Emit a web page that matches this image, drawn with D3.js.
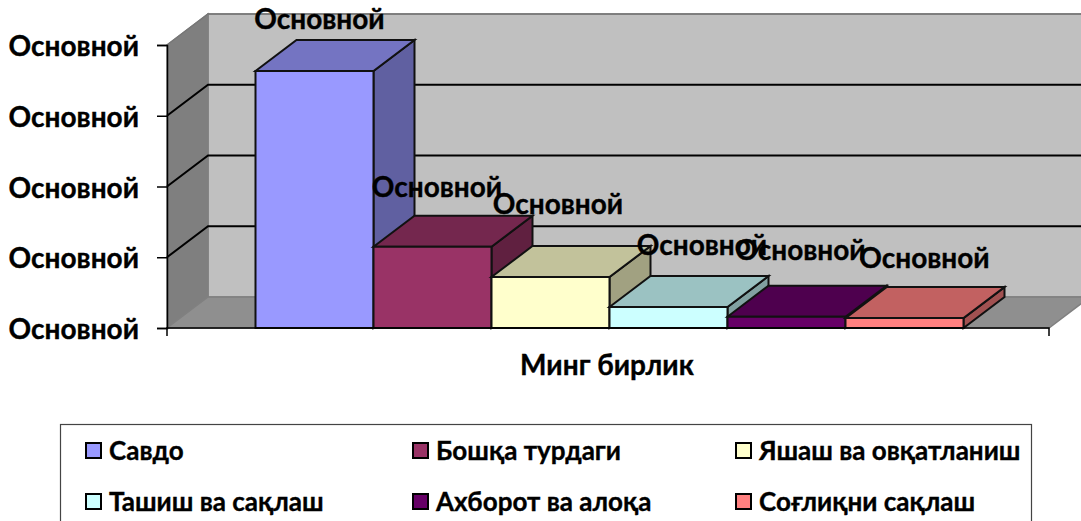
<!DOCTYPE html>
<html><head><meta charset="utf-8">
<script src="https://cdnjs.cloudflare.com/ajax/libs/d3/7.8.5/d3.min.js"></script>
<style>html,body{margin:0;padding:0;background:#fff;overflow:hidden}svg{display:block}
text{font-family:Lato,"Open Sans","Noto Sans",sans-serif;font-weight:700;fill:#000;stroke:#000;stroke-width:.35px}</style>
</head><body><svg id="c" width="1081" height="521"></svg>
<script>
const seriesNames=["Савдо","Бошқа турдаги","Яшаш ва овқатланиш","Ташиш ва сақлаш","Ахборот ва алоқа","Соғлиқни сақлаш"];
const seriesValues=[90.8,28.7,18,7.4,4,3.5];
const seriesColors=["#9999FF","#993366","#FFFFCC","#CCFFFF","#660066","#FF8080"];
const tickValues=[0,25,50,75,100];
const tickLabel="Основной";
const dataLabel="Основной";
const categoryLabel="Минг бирлик";

// layout only
const dx=41,dy=-31,fs=28,legendFs=26;
const labelOffsets=[[5,-21],[4.5,-29],[7.5,-42],[33.5,-31],[14,-35],[20,-29]];
const svg=d3.select("#c");
const y=d3.scaleLinear().domain([0,100]).range([328,45]);
const xBar=d3.scaleBand().domain(seriesNames).range([255.5,963.5]).padding(0);
const xAxisScale=d3.scaleBand().domain([categoryLabel]).range([167,1049]);
const poly=(pts,fill,stroke,sw)=>svg.append("polygon").attr("points",pts.map(p=>p.join(",")).join(" ")).attr("fill",fill).attr("stroke",stroke).attr("stroke-width",sw);
const x0=167,x1=1049,yb=y(0),yt=y(100);
// walls
poly([[x0+dx,yt+dy],[x1+dx+60,yt+dy],[x1+dx+60,yb+dy],[x0+dx,yb+dy]],"#C0C0C0","#808080",1.5);
poly([[x0,yt],[x0+dx,yt+dy],[x0+dx,yb+dy],[x0,yb]],"#7f7f7f","#808080",1.5);
poly([[x0,yb],[x0+dx,yb+dy],[x1+dx,yb+dy],[x1,yb]],"#8f8f8f","#808080",1.5);
// gridlines
tickValues.slice(1,-1).forEach(v=>{
  svg.append("path").attr("fill","none").attr("stroke","#000").attr("stroke-width",2)
    .attr("d",`M${x0},${y(v)}L${x0+dx},${y(v)+dy}H1081`);
});
[tickValues[tickValues.length-1]].forEach(v=>{
  svg.append("path").attr("fill","none").attr("stroke","#777").attr("stroke-width",1.5)
    .attr("d",`M${x0},${y(v)}L${x0+dx},${y(v)+dy}H1081`);
});
// bars
const shade=(c,k)=>{const r=d3.rgb(c);return d3.rgb(r.r*k,r.g*k,r.b*k).formatHex();};
seriesNames.forEach((n,i)=>{
  const l=xBar(n),r=l+xBar.bandwidth(),t=y(seriesValues[i]),c=seriesColors[i];
  poly([[r,t],[r+dx,t+dy],[r+dx,yb+dy],[r,yb]],shade(c,.63),"#111",2);
  poly([[l,t],[l+dx,t+dy],[r+dx,t+dy],[r,t]],shade(c,.76),"#111",2);
  poly([[l,t],[r,t],[r,yb],[l,yb]],c,"#111",2);
});
// axes
const gy=svg.append("g").attr("transform",`translate(${x0},0)`).call(d3.axisLeft(y).tickValues(tickValues).tickSize(10).tickPadding(18).tickFormat(()=>tickLabel));
gy.selectAll("path").attr("stroke","#000").attr("stroke-width",1.5);
gy.selectAll("line").attr("stroke","#000").attr("stroke-width",1.5);
gy.selectAll("text").attr("font-size",fs).attr("dy","0.38em").attr("font-family",null);
const gx=svg.append("g").attr("transform",`translate(-1,${yb})`).call(d3.axisBottom(xAxisScale).tickSize(0).tickPadding(27));
gx.selectAll("path").attr("stroke","#000").attr("stroke-width",1.5).attr("d",`M${x0+1},8V0H${x1+1}V8`);
gx.selectAll("text").attr("font-size",fs).attr("font-family",null).attr("dy","0.72em");
// data labels
seriesNames.forEach((n,i)=>{
  svg.append("text").attr("text-anchor","middle").attr("font-size",fs)
    .attr("x",xBar(n)+xBar.bandwidth()/2+labelOffsets[i][0])
    .attr("y",y(seriesValues[i])+dy+labelOffsets[i][1]).attr("dy","0.35em").text(dataLabel);
});
// legend
svg.append("rect").attr("x",60.5).attr("y",424.5).attr("width",971).attr("height",120).attr("fill","#fff").attr("stroke","#444").attr("stroke-width",1.2);
const colX=[85,412,735],rowY=[450.5,501.5];
seriesNames.forEach((n,i)=>{
  const cx=colX[i%3],cy=rowY[Math.floor(i/3)];
  svg.append("rect").attr("x",cx+1).attr("y",cy-7.5).attr("width",15).attr("height",15).attr("fill",seriesColors[i]).attr("stroke","#000").attr("stroke-width",2);
  svg.append("text").attr("x",cx+24).attr("y",cy).attr("dy","0.35em").attr("font-size",legendFs).text(n);
});
</script></body></html>
